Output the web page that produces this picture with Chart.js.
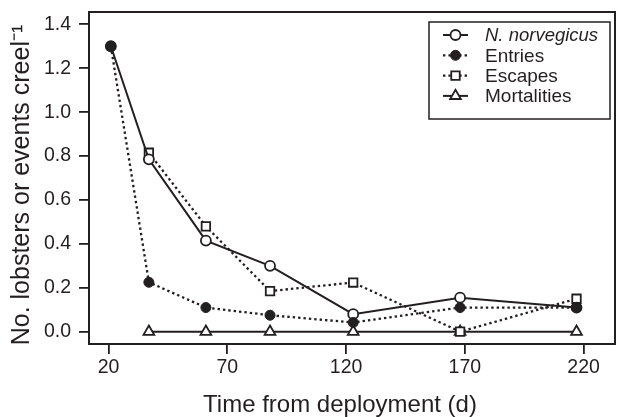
<!DOCTYPE html>
<html>
<head>
<meta charset="utf-8">
<script src="https://cdn.jsdelivr.net/npm/chart.js@4/dist/chart.umd.min.js"></script>
<style>
html,body{margin:0;padding:0;background:#fff;}
#wrap{width:618px;height:417px;position:relative;}
</style>
</head>
<body>
<div id="wrap"><canvas id="c" width="618" height="417"></canvas></div>
<script>
// ---- data ----
const days        = [21, 37, 61, 88, 123, 168, 217];
const norvegicus  = [1.30, 0.785, 0.415, 0.30, 0.08, 0.155, 0.11];
const entries     = [1.30, 0.225, 0.11, 0.075, 0.042, 0.11, 0.11];
const escapes     = [null, 0.815, 0.48, 0.185, 0.224, 0.0, 0.15];
const mortalities = [null, 0, 0, 0, 0, 0, 0];
const xTicks = [20, 70, 120, 170, 220];
const yTicks = [0.0, 0.2, 0.4, 0.6, 0.8, 1.0, 1.2, 1.4];
const seriesNames = ['N. norvegicus', 'Entries', 'Escapes', 'Mortalities'];
const xTitle = 'Time from deployment (d)';
const yTitle = 'No. lobsters or events creel\u207B\u00B9';

const INK = '#231f20';
const FONT = "'Liberation Sans', Arial, Helvetica, sans-serif";

function pts(vals){
  return days.map((d,i)=>({x:d, y:vals[i]})).filter(p=>p.y!==null);
}

function drawMarker(ctx, style, x, y, r, fill, bw){
  ctx.save();
  ctx.beginPath();
  if(style==='circle'){
    ctx.arc(x,y,r,0,Math.PI*2);
  } else if(style==='rect'){
    const s = Math.SQRT1_2*r;
    ctx.rect(x-s,y-s,2*s,2*s);
  } else if(style==='triangle'){
    let rad = 0;
    ctx.moveTo(x+Math.sin(rad)*r, y-Math.cos(rad)*r);
    rad += 2*Math.PI/3;
    ctx.lineTo(x+Math.sin(rad)*r, y-Math.cos(rad)*r);
    rad += 2*Math.PI/3;
    ctx.lineTo(x+Math.sin(rad)*r, y-Math.cos(rad)*r);
    ctx.closePath();
  }
  ctx.fillStyle = fill; ctx.fill();
  if(bw>0){ ctx.lineWidth = bw; ctx.strokeStyle = INK; ctx.stroke(); }
  ctx.restore();
}

const boxPlugin = {
  id:'box',
  afterDraw(chart){
    const {ctx, chartArea:a} = chart;
    ctx.save();
    ctx.strokeStyle = INK; ctx.lineWidth = 2;
    ctx.strokeRect(a.left, a.top, a.right-a.left, a.bottom-a.top);
    // axis titles
    ctx.fillStyle = INK;
    ctx.textAlign = 'center'; ctx.textBaseline = 'alphabetic';
    ctx.font = '24px ' + FONT;
    ctx.fillText(xTitle, (a.left+a.right)/2 - 12, a.bottom + 68);
    ctx.translate(28.5, (a.top+a.bottom)/2 + 7);
    ctx.rotate(-Math.PI/2);
    ctx.font = '25px ' + FONT;
    ctx.fillText(yTitle, 0, 0);
    ctx.restore();
  }
};

const legendPlugin = {
  id:'rlegend',
  afterDraw(chart){
    const {ctx, chartArea:a} = chart;
    const w = 181, h = 97;
    const lx = a.right - 5 - w, ly = a.top + 10;
    ctx.save();
    ctx.fillStyle = '#fff';
    ctx.fillRect(lx, ly, w, h);
    ctx.strokeStyle = INK; ctx.lineWidth = 1.5;
    ctx.strokeRect(lx, ly, w, h);
    chart.data.datasets.forEach((ds, i) => {
      const yy = ly + 13 + i*20.3;
      ctx.save();
      ctx.strokeStyle = INK; ctx.lineWidth = ds.borderWidth;
      ctx.setLineDash(ds.borderDash || []);
      ctx.beginPath(); ctx.moveTo(lx+14, yy); ctx.lineTo(lx+39, yy); ctx.stroke();
      ctx.restore();
      drawMarker(ctx, ds.pointStyle, lx+26.5, yy, ds.pointRadius, ds.pointBackgroundColor, ds.pointBorderWidth);
      ctx.fillStyle = INK;
      ctx.font = (i===0 ? 'italic 18.5px ' : '19px ') + FONT;
      ctx.textBaseline = 'middle'; ctx.textAlign = 'left';
      ctx.fillText(ds.label, lx+56, yy+1);
    });
    ctx.restore();
  }
};

const common = {borderColor: INK, borderWidth: 2, pointBorderColor: INK, fill:false, tension:0, borderCapStyle:'butt'};

new Chart(document.getElementById('c'), {
  type:'line',
  data:{
    datasets:[
      Object.assign({}, common, {label:seriesNames[0], data:pts(norvegicus), order:1,
        pointStyle:'circle', pointRadius:5, pointBorderWidth:1.8, pointBackgroundColor:'#fff'}),
      Object.assign({}, common, {label:seriesNames[1], data:pts(entries), order:0, borderDash:[2.4,3], borderWidth:2.3,
        pointStyle:'circle', pointRadius:5, pointBorderWidth:1, pointBackgroundColor:INK}),
      Object.assign({}, common, {label:seriesNames[2], data:pts(escapes), order:2, borderDash:[2.4,3], borderWidth:2.3,
        pointStyle:'rect', pointRadius:6, pointBorderWidth:1.8, pointBackgroundColor:'#fff'}),
      Object.assign({}, common, {label:seriesNames[3], data:pts(mortalities), order:3,
        pointStyle:'triangle', pointRadius:6.2, pointBorderWidth:1.8, pointBackgroundColor:'#fff'})
    ]
  },
  options:{
    responsive:false,
    animation:false,
    events:[],
    layout:{autoPadding:false, padding:{top:12, right:3, left:0, bottom:0}},
    plugins:{legend:{display:false}, tooltip:{enabled:false}, title:{display:false}},
    scales:{
      x:{
        type:'linear', min:11.8, max:233.2,
        afterBuildTicks(s){ s.ticks = xTicks.map(v=>({value:v})); },
        afterFit(s){ s.height = 73; s.paddingLeft = 0; s.paddingRight = 0; },
        border:{display:false},
        grid:{display:true, drawOnChartArea:false, drawTicks:true, tickLength:10, color:INK, lineWidth:1.8},
        ticks:{color:INK, font:{family:FONT, size:19.5, lineHeight:1.2}, padding:2, maxRotation:0, autoSkip:false,
          callback:(v)=>String(v)},
        title:{display:false}
      },
      y:{
        type:'linear', min:-0.056, max:1.456,
        afterBuildTicks(s){ s.ticks = yTicks.map(v=>({value:v})); },
        afterFit(s){ s.width = 89; s.paddingTop = 0; s.paddingBottom = 0; },
        border:{display:false},
        grid:{display:true, drawOnChartArea:false, drawTicks:true, tickLength:10, color:INK, lineWidth:1.8},
        ticks:{color:INK, font:{family:FONT, size:19.5}, padding:8, autoSkip:false,
          callback:(v)=>Number(v).toFixed(1)},
        title:{display:false}
      }
    }
  },
  plugins:[boxPlugin, legendPlugin]
});
</script>
</body>
</html>
